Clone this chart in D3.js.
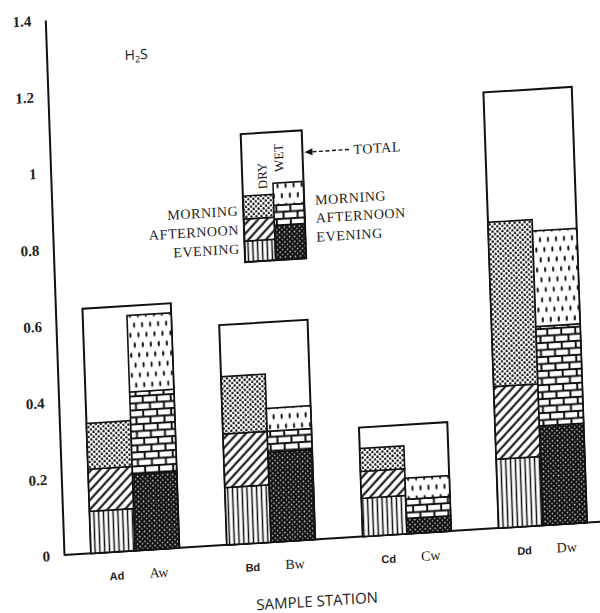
<!DOCTYPE html>
<html>
<head>
<meta charset="utf-8">
<script src="https://cdn.jsdelivr.net/npm/d3@7/dist/d3.min.js"></script>
<style>
  html, body { margin: 0; padding: 0; background: #fff; }
  svg { display: block; }
</style>
</head>
<body>
<svg id="chart" width="600" height="613"></svg>
<script>
// H2S concentration by sample station, dry (d) and wet (w) season,
// stacked by time of day, with the station total drawn as an open box.
const stations = ["A", "B", "C", "D"];
const seasons = ["d", "w"];
const periods = ["EVENING", "AFTERNOON", "MORNING"];

const dryEvening   = [0.11, 0.15, 0.10, 0.18];
const dryAfternoon = [0.11, 0.14, 0.07, 0.19];
const dryMorning   = [0.12, 0.15, 0.06, 0.43];

const wetEvening   = [0.20, 0.235, 0.04, 0.26];
const wetAfternoon = [0.215, 0.055, 0.05, 0.26];
const wetMorning   = [0.20, 0.06, 0.055, 0.25];

const totals = [0.64, 0.575, 0.285, 1.14];

const dryLabels = ["Ad", "Bd", "Cd", "Dd"];
const wetLabels = ["Aw", "Bw", "Cw", "Dw"];

const yTickValues = [0, 0.2, 0.4, 0.6, 0.8, 1, 1.2, 1.4];
const yTickLabels = ["0", "0.2", "0.4", "0.6", "0.8", "1", "1.2", "1.4"];

const svg = d3.select("#chart");
const defs = svg.append("defs");

// ---- fill patterns ----
function pattern(id, w, h, build, transform) {
  const p = defs.append("pattern").attr("id", id)
    .attr("patternUnits", "userSpaceOnUse").attr("width", w).attr("height", h);
  if (transform) p.attr("patternTransform", transform);
  p.append("rect").attr("width", w).attr("height", h).attr("fill", "#fff");
  build(p);
}
// dry morning: fine stipple
pattern("p-dry-morning", 5, 5, p => {
  p.append("ellipse").attr("cx", 1.3).attr("cy", 1.4).attr("rx", 1.15).attr("ry", 1.35).attr("fill", "#111");
  p.append("ellipse").attr("cx", 3.8).attr("cy", 3.9).attr("rx", 1.15).attr("ry", 1.35).attr("fill", "#111");
});
// dry afternoon: diagonal hatching
pattern("p-dry-afternoon", 6.5, 6.5, p => {
  p.append("line").attr("x1", 1.5).attr("y1", 0).attr("x2", 1.5).attr("y2", 6.5)
    .attr("stroke", "#111").attr("stroke-width", 2.1);
}, "rotate(45)");
// dry evening: vertical lines
pattern("p-dry-evening", 4.8, 10, p => {
  p.append("line").attr("x1", 2.4).attr("y1", 0).attr("x2", 2.4).attr("y2", 10)
    .attr("stroke", "#111").attr("stroke-width", 1.5);
});
// wet morning: short vertical dashes
pattern("p-wet-morning", 8, 20, p => {
  p.append("ellipse").attr("cx", 2).attr("cy", 5).attr("rx", 1.1).attr("ry", 2.8).attr("fill", "#1a1a1a");
  p.append("ellipse").attr("cx", 6).attr("cy", 15).attr("rx", 1.1).attr("ry", 2.8).attr("fill", "#1a1a1a");
});
// wet afternoon: brickwork
pattern("p-wet-afternoon", 14, 14, p => {
  p.append("rect").attr("width", 14).attr("height", 14).attr("fill", "#111");
  p.append("rect").attr("x", 1).attr("y", 1).attr("width", 12).attr("height", 5).attr("fill", "#fff");
  p.append("rect").attr("x", 8).attr("y", 8).attr("width", 12).attr("height", 5).attr("fill", "#fff");
  p.append("rect").attr("x", -6).attr("y", 8).attr("width", 12).attr("height", 5).attr("fill", "#fff");
});
// wet evening: dark ground with light speckle
pattern("p-wet-evening", 5, 5, p => {
  p.append("rect").attr("width", 5).attr("height", 5).attr("fill", "#111");
  p.append("ellipse").attr("cx", 1.3).attr("cy", 1.3).attr("rx", 0.8).attr("ry", 0.9).attr("fill", "#ddd");
  p.append("ellipse").attr("cx", 3.8).attr("cy", 3.7).attr("rx", 0.7).attr("ry", 0.8).attr("fill", "#ccc");
});

const fills = {
  d: { EVENING: "url(#p-dry-evening)", AFTERNOON: "url(#p-dry-afternoon)", MORNING: "url(#p-dry-morning)" },
  w: { EVENING: "url(#p-wet-evening)", AFTERNOON: "url(#p-wet-afternoon)", MORNING: "url(#p-wet-morning)" }
};

// ---- plot frame: origin at the axis corner, slightly skewed page ----
const g = svg.append("g").attr("transform", "matrix(1,-0.062,0.035,1,64,555)");

const y = d3.scaleLinear().domain([0, 1.4]).range([0, -535]);
const xGroup = d3.scaleBand().domain(stations).range([2, 548])
  .paddingInner(0.35).paddingOuter(0.184);
const xSub = d3.scaleBand().domain(seasons).range([0, xGroup.bandwidth()]);

// stacked rows per season
const dryRows = stations.map((s, i) => ({ station: s, EVENING: dryEvening[i], AFTERNOON: dryAfternoon[i], MORNING: dryMorning[i] }));
const wetRows = stations.map((s, i) => ({ station: s, EVENING: wetEvening[i], AFTERNOON: wetAfternoon[i], MORNING: wetMorning[i] }));
const stack = d3.stack().keys(periods);
const stacked = { d: stack(dryRows), w: stack(wetRows) };

// axes
g.append("line")
  .attr("x1", 0).attr("x2", xGroup.range()[1] + 4)
  .attr("y1", y(0)).attr("y2", y(0))
  .attr("stroke", "#111").attr("stroke-width", 2);

const yAxis = g.append("g")
  .call(d3.axisLeft(y).tickValues(yTickValues)
    .tickFormat((d, i) => yTickLabels[i]).tickSize(0).tickSizeOuter(0).tickPadding(14));
yAxis.select(".domain").attr("stroke", "#111").attr("stroke-width", 2);
yAxis.selectAll("text")
  .attr("font-family", "'Liberation Serif', serif")
  .attr("font-size", 15).attr("font-weight", "bold").attr("fill", "#222");

// total boxes
g.append("g").selectAll("rect").data(stations).join("rect")
  .attr("x", s => xGroup(s))
  .attr("width", xGroup.bandwidth())
  .attr("y", (s, i) => y(totals[i]))
  .attr("height", (s, i) => y(0) - y(totals[i]))
  .attr("fill", "none").attr("stroke", "#111").attr("stroke-width", 2);

// stacked bars
seasons.forEach(season => {
  const layer = g.append("g");
  stacked[season].forEach(series => {
    layer.append("g").selectAll("rect").data(series).join("rect")
      .attr("x", d => xGroup(d.data.station) + xSub(season))
      .attr("width", xSub.bandwidth())
      .attr("y", d => y(d[1]))
      .attr("height", d => y(d[0]) - y(d[1]))
      .attr("fill", fills[season][series.key])
      .attr("stroke", "#111").attr("stroke-width", 1.6);
  });
});

// bar labels
g.append("g").selectAll("text").data(stations).join("text")
  .attr("x", s => xGroup(s) + xSub("d") + xSub.bandwidth() / 2 + 3)
  .attr("y", 28).attr("text-anchor", "middle")
  .attr("font-family", "'Liberation Sans', Arial, sans-serif")
  .attr("font-weight", "bold").attr("font-size", 11).attr("fill", "#222")
  .text((s, i) => dryLabels[i]);
g.append("g").selectAll("text").data(stations).join("text")
  .attr("x", s => xGroup(s) + xSub("w") + xSub.bandwidth() / 2 + 1)
  .attr("y", 28).attr("text-anchor", "middle")
  .attr("font-family", "'Liberation Serif', serif")
  .attr("font-size", 14).attr("fill", "#222")
  .text((s, i) => wetLabels[i]);

// axis title
g.append("text").attr("x", 251).attr("y", 67).attr("text-anchor", "middle")
  .attr("font-family", "'Open Sans', sans-serif").attr("font-size", 15).attr("fill", "#222")
  .text("SAMPLE STATION");

// pollutant name
const h2s = g.append("text").attr("x", 78).attr("y", -490)
  .attr("font-family", "'Open Sans', sans-serif").attr("font-size", 14).attr("fill", "#222");
h2s.append("tspan").text("H");
h2s.append("tspan").attr("font-size", 9).attr("dy", 3).text("2");
h2s.append("tspan").attr("dy", -3).text("S");

// ---- key ----
const key = g.append("g");
const keyX = 191, keyW = 61, keyBottom = -281, keyTop = -409;
const colW = keyW / 2;
const keyStacks = {
  d: [["EVENING", -281, -302], ["AFTERNOON", -302, -324], ["MORNING", -324, -347]],
  w: [["EVENING", -281, -316], ["AFTERNOON", -316, -336], ["MORNING", -336, -358]]
};
seasons.forEach((season, si) => {
  keyStacks[season].forEach(([period, y0, y1]) => {
    key.append("rect")
      .attr("x", keyX + si * colW).attr("width", colW)
      .attr("y", y1).attr("height", y0 - y1)
      .attr("fill", fills[season][period])
      .attr("stroke", "#111").attr("stroke-width", 1.5);
  });
});
key.append("rect").attr("x", keyX).attr("y", keyTop)
  .attr("width", keyW).attr("height", keyBottom - keyTop)
  .attr("fill", "none").attr("stroke", "#111").attr("stroke-width", 2);

const keyFont = "'Liberation Serif', serif";
key.append("text").attr("transform", "translate(211,-366) rotate(-90)")
  .attr("text-anchor", "middle").attr("dominant-baseline", "central")
  .attr("font-family", keyFont).attr("font-size", 13).attr("fill", "#222").text("DRY");
key.append("text").attr("transform", "translate(228,-383) rotate(-90)")
  .attr("text-anchor", "middle").attr("dominant-baseline", "central")
  .attr("font-family", keyFont).attr("font-size", 13).attr("fill", "#222").text("WET");

// arrow to the total
key.append("path").attr("d", "M254,-387 L262,-390.5 L262,-383.5 Z").attr("fill", "#111");
key.append("line").attr("x1", 262).attr("x2", 300).attr("y1", -387).attr("y2", -387)
  .attr("stroke", "#111").attr("stroke-width", 1.4).attr("stroke-dasharray", "4,2.5");
key.append("text").attr("x", 303).attr("y", -382)
  .attr("font-family", keyFont).attr("font-size", 14).attr("letter-spacing", 0.6)
  .attr("fill", "#222").text("TOTAL");

const leftKey = [["MORNING", -328], ["AFTERNOON", -309], ["EVENING", -290]];
const rightKey = [["MORNING", -334], ["AFTERNOON", -316], ["EVENING", -297]];
leftKey.forEach(([t, yy]) => key.append("text").attr("x", 186).attr("y", yy)
  .attr("text-anchor", "end").attr("font-family", keyFont).attr("font-size", 14)
  .attr("letter-spacing", 0.6).attr("fill", "#222").text(t));
rightKey.forEach(([t, yy]) => key.append("text").attr("x", 263).attr("y", yy)
  .attr("font-family", keyFont).attr("font-size", 14)
  .attr("letter-spacing", 0.6).attr("fill", "#222").text(t));
</script>
</body>
</html>
